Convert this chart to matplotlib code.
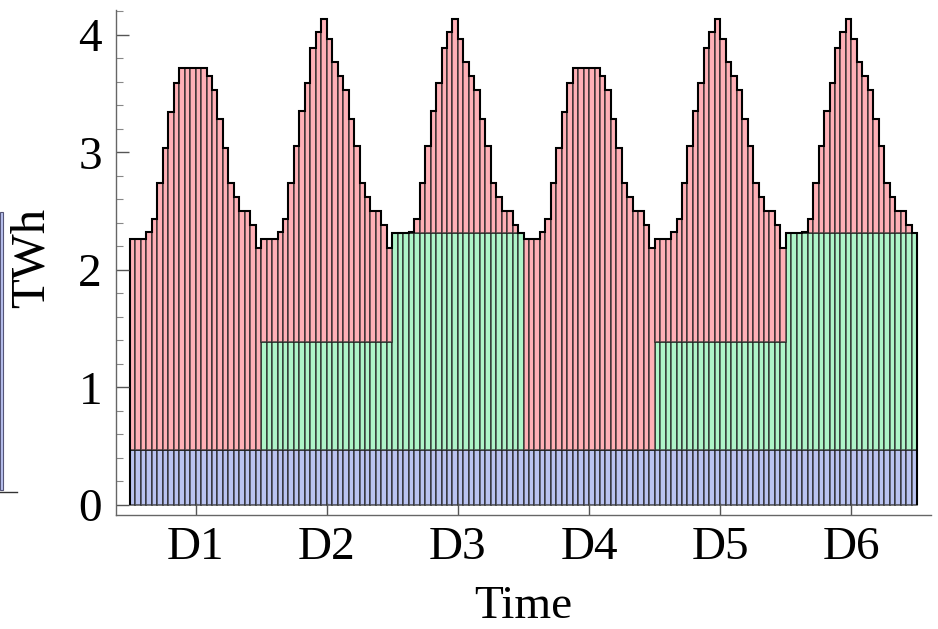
import numpy as np
import matplotlib.pyplot as plt
from matplotlib.patches import Rectangle

plt.rcParams['font.family'] = ['Liberation Serif', 'DejaVu Serif']

days = ["D1", "D2", "D3", "D4", "D5", "D6"]

# hourly demand (TWh), 24 values per day
demand_d1 = [2.26, 2.26, 2.26, 2.32, 2.43, 2.74, 3.04, 3.34, 3.59, 3.72, 3.72, 3.72,
             3.72, 3.72, 3.65, 3.53, 3.28, 3.04, 2.74, 2.62, 2.50, 2.50, 2.38, 2.19]
demand_d2 = [2.26, 2.26, 2.26, 2.32, 2.43, 2.74, 3.05, 3.35, 3.59, 3.89, 4.02, 4.13,
             3.96, 3.77, 3.65, 3.53, 3.28, 3.05, 2.74, 2.62, 2.50, 2.50, 2.38, 2.19]
demand_d3 = [2.26, 2.26, 2.26, 2.32, 2.43, 2.74, 3.05, 3.35, 3.59, 3.89, 4.02, 4.13,
             3.96, 3.77, 3.65, 3.53, 3.28, 3.05, 2.74, 2.62, 2.50, 2.50, 2.38, 2.19]
demand_d4 = [2.26, 2.26, 2.26, 2.32, 2.43, 2.74, 3.04, 3.34, 3.59, 3.72, 3.72, 3.72,
             3.72, 3.72, 3.65, 3.53, 3.28, 3.04, 2.74, 2.62, 2.50, 2.50, 2.38, 2.19]
demand_d5 = [2.26, 2.26, 2.26, 2.32, 2.43, 2.74, 3.05, 3.35, 3.59, 3.89, 4.02, 4.13,
             3.96, 3.77, 3.65, 3.53, 3.28, 3.05, 2.74, 2.62, 2.50, 2.50, 2.38, 2.19]
demand_d6 = [2.26, 2.26, 2.26, 2.32, 2.43, 2.74, 3.05, 3.35, 3.59, 3.89, 4.02, 4.13,
             3.96, 3.77, 3.65, 3.53, 3.28, 3.05, 2.74, 2.62, 2.50, 2.50, 2.38, 2.19]

# per-day levels of the flat layers
base_level = [0.47, 0.47, 0.47, 0.47, 0.47, 0.47]
mid_level = [0.0, 0.92, 1.84, 0.0, 0.92, 1.84]   # green layer thickness

demand = np.concatenate([demand_d1, demand_d2, demand_d3,
                         demand_d4, demand_d5, demand_d6])
base = np.repeat(base_level, 24)
mid = np.repeat(mid_level, 24)
rest = np.clip(demand - base - mid, 0, None)
top = base + mid + rest
x = np.arange(len(demand))

c_blue = "#bac3f0"
c_green = "#aef5c8"
c_red = "#ffb0b6"
edge = (0.12, 0.12, 0.12, 0.7)

fig = plt.figure(figsize=(9.38, 6.29), dpi=100)
ax = fig.add_axes([116 / 938, 114 / 629, 815 / 938, 505 / 629])

ax.bar(x, base, width=1, color=c_blue, edgecolor=edge, linewidth=1.2)
ax.bar(x, mid, bottom=base, width=1, color=c_green, edgecolor=edge, linewidth=1.2)
ax.bar(x, rest, bottom=base + mid, width=1, color=c_red, edgecolor=edge, linewidth=1.2)
ax.stairs(top, np.arange(len(top) + 1) - 0.5, color="black", linewidth=1.5)

ax.set_xlim(-3.06, 146.06)
ax.set_ylim(-0.085, 4.21)

ax.set_xticks(np.arange(6) * 24 + 11.5)
ax.set_xticklabels(days)
ax.set_yticks([0, 1, 2, 3, 4])
ax.set_yticks(np.arange(0, 4.21, 0.2), minor=True)
ax.tick_params(axis="both", which="major", direction="in", length=9, width=1,
               color="#555555", labelsize=34, pad=8)
ax.tick_params(axis="y", which="minor", direction="in", length=5, width=0.8,
               color="#888888")
ax.tick_params(axis="y", pad=10)

for s in ["top", "right"]:
    ax.spines[s].set_visible(False)
for s in ["left", "bottom"]:
    ax.spines[s].set_color("#666666")
    ax.spines[s].set_linewidth(1)

ax.set_xlabel("Time", fontsize=34, labelpad=12)
ax.set_ylabel("TWh", fontsize=35)
ax.yaxis.set_label_coords(-0.077, 0.51)

# cropped legend piece at the left edge
fig.patches.append(Rectangle((0, 139 / 629), 3 / 938, 278 / 629,
                             transform=fig.transFigure, facecolor=c_blue,
                             edgecolor="#555577", linewidth=0.8))
fig.add_artist(plt.Line2D([0, 17 / 938], [137 / 629, 137 / 629],
                          transform=fig.transFigure, color="#333333", linewidth=1))

fig.savefig("out.png", dpi=100)
